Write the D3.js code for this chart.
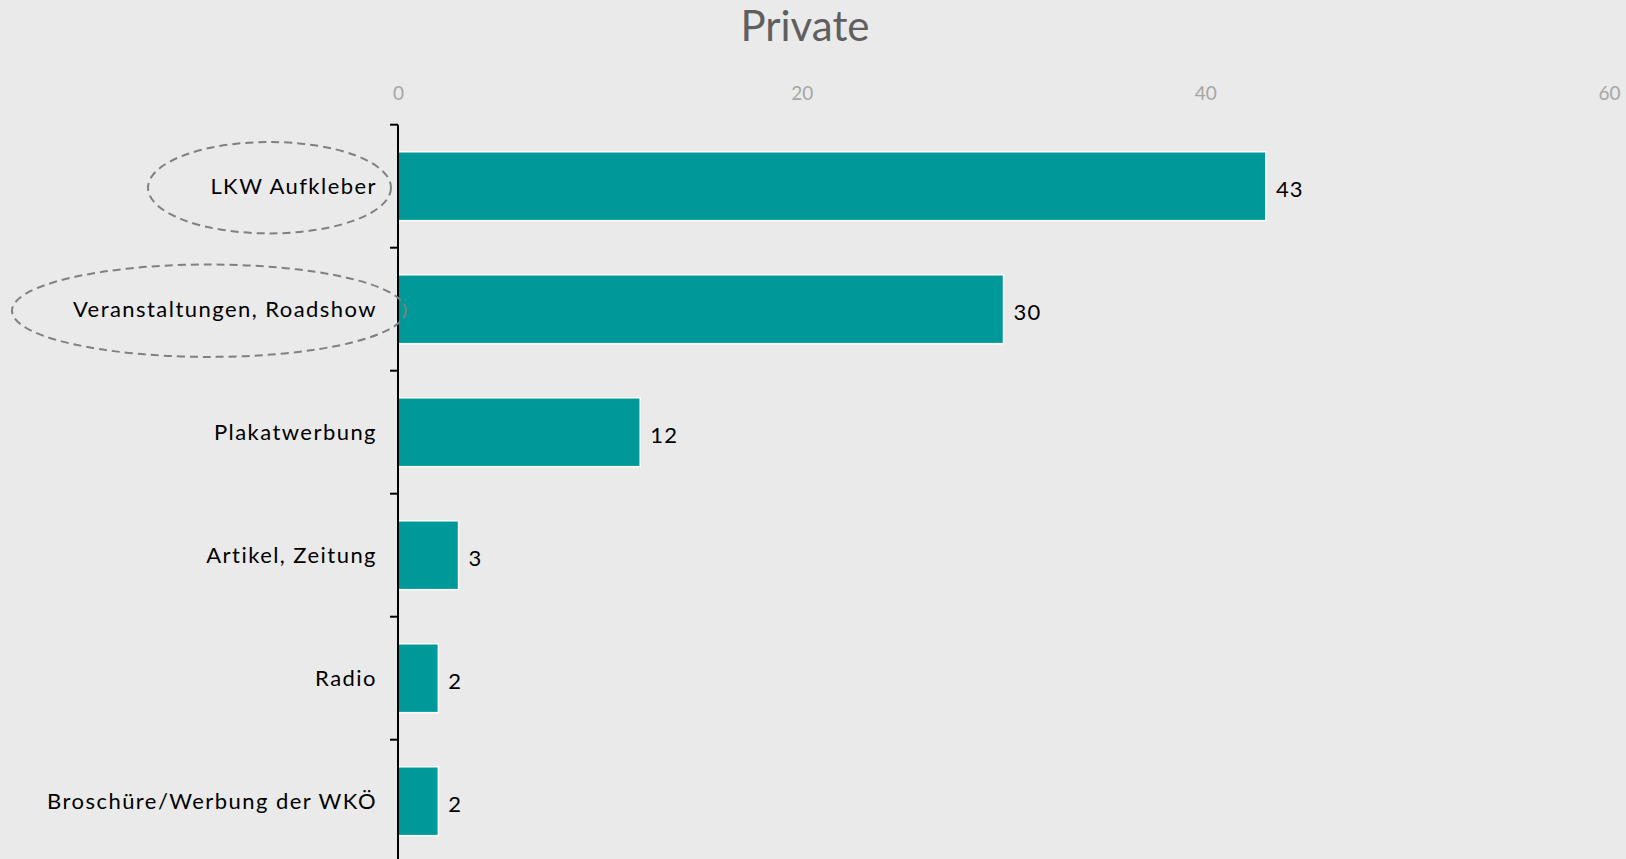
<!DOCTYPE html>
<html>
<head>
<meta charset="utf-8">
<script src="https://cdn.jsdelivr.net/npm/d3@7"></script>
<style>
  html, body { margin: 0; padding: 0; background: #eaeaea; }
  svg { display: block; }
</style>
</head>
<body>
<script>
// Chart data
const categories = [
  "LKW Aufkleber",
  "Veranstaltungen, Roadshow",
  "Plakatwerbung",
  "Artikel, Zeitung",
  "Radio",
  "Broschüre/Werbung der WKÖ"
];
const values = [43, 30, 12, 3, 2, 2];
const tickValues = [0, 20, 40, 60];
const title = "Private";
// Categories circled with a dashed outline
const highlighted = ["LKW Aufkleber", "Veranstaltungen, Roadshow"];

const W = 1626, H = 859;
const svg = d3.select("body").append("svg")
  .attr("width", W).attr("height", H);

svg.append("rect").attr("width", W).attr("height", H).attr("fill", "#eaeaea");

const x = d3.scaleLinear().domain([0, 60]).range([398, 1609]);
const y = d3.scaleBand().domain(categories)
  .range([124.7, 862.7]).paddingInner(0.44).paddingOuter(0.22);
const step = y.step();

// Title
svg.append("text")
  .attr("x", 805).attr("y", 41)
  .attr("text-anchor", "middle")
  .attr("font-family", "Lato, 'Open Sans', sans-serif")
  .attr("font-size", 42)
  .attr("fill", "#5f5f5f")
  .text(title);

// Top value axis (labels only)
const xAxis = d3.axisTop(x).tickValues(tickValues).tickSize(0).tickPadding(0);
const gx = svg.append("g").attr("transform", "translate(0,100)").call(xAxis);
gx.select(".domain").remove();
gx.selectAll("text")
  .attr("font-family", "Lato, 'Open Sans', sans-serif")
  .attr("font-size", 19)
  .attr("fill", "#a6a6a6");

// Bars
svg.append("g").selectAll("rect")
  .data(categories)
  .join("rect")
  .attr("x", x(0))
  .attr("y", d => y(d))
  .attr("width", (d, i) => x(values[i]) - x(0))
  .attr("height", y.bandwidth())
  .attr("fill", "#009999")
  .attr("stroke", "#ffffff")
  .attr("stroke-width", 1.5);

// Category axis line and tick marks at band boundaries
svg.append("line")
  .attr("x1", x(0)).attr("x2", x(0))
  .attr("y1", y(categories[0]) - y.paddingOuter() * step)
  .attr("y2", H)
  .attr("stroke", "#000").attr("stroke-width", 2);

const boundaries = categories.map(c => y(c) + y.bandwidth() / 2 - step / 2);
svg.append("g").selectAll("line")
  .data(boundaries)
  .join("line")
  .attr("x1", x(0) - 8).attr("x2", x(0))
  .attr("y1", d => d).attr("y2", d => d)
  .attr("stroke", "#000").attr("stroke-width", 2);

// Category labels
svg.append("g").selectAll("text")
  .data(categories)
  .join("text")
  .attr("x", x(0) - 21)
  .attr("y", d => y(d) + y.bandwidth() / 2)
  .attr("dy", "0.35em")
  .attr("text-anchor", "end")
  .attr("font-family", "Lato, 'Open Sans', sans-serif")
  .attr("font-size", 22)
  .attr("letter-spacing", 1.45)
  .attr("fill", "#000")
  .text(d => d);

// Value labels
svg.append("g").selectAll("text")
  .data(categories)
  .join("text")
  .attr("x", (d, i) => x(values[i]) + 10)
  .attr("y", d => y(d) + y.bandwidth() / 2 + 3)
  .attr("dy", "0.35em")
  .attr("font-family", "Lato, 'Open Sans', sans-serif")
  .attr("font-size", 22)
  .attr("letter-spacing", 1.2)
  .attr("fill", "#000")
  .text((d, i) => values[i]);

// Dashed ellipses around highlighted category labels
const ellipseShapes = {
  "LKW Aufkleber": { left: x(0) - 250, right: x(0) - 7, ry: 45.7 },
  "Veranstaltungen, Roadshow": { left: x(0) - 386, right: x(0) + 8, ry: 46.2 }
};
svg.append("g").selectAll("ellipse")
  .data(highlighted)
  .join("ellipse")
  .attr("cx", d => (ellipseShapes[d].left + ellipseShapes[d].right) / 2)
  .attr("cy", d => y(d) + y.bandwidth() / 2 + 1.5)
  .attr("rx", d => (ellipseShapes[d].right - ellipseShapes[d].left) / 2)
  .attr("ry", d => ellipseShapes[d].ry)
  .attr("fill", "none")
  .attr("stroke", "#808080")
  .attr("stroke-width", 2)
  .attr("stroke-dasharray", "8,5");
</script>
</body>
</html>
